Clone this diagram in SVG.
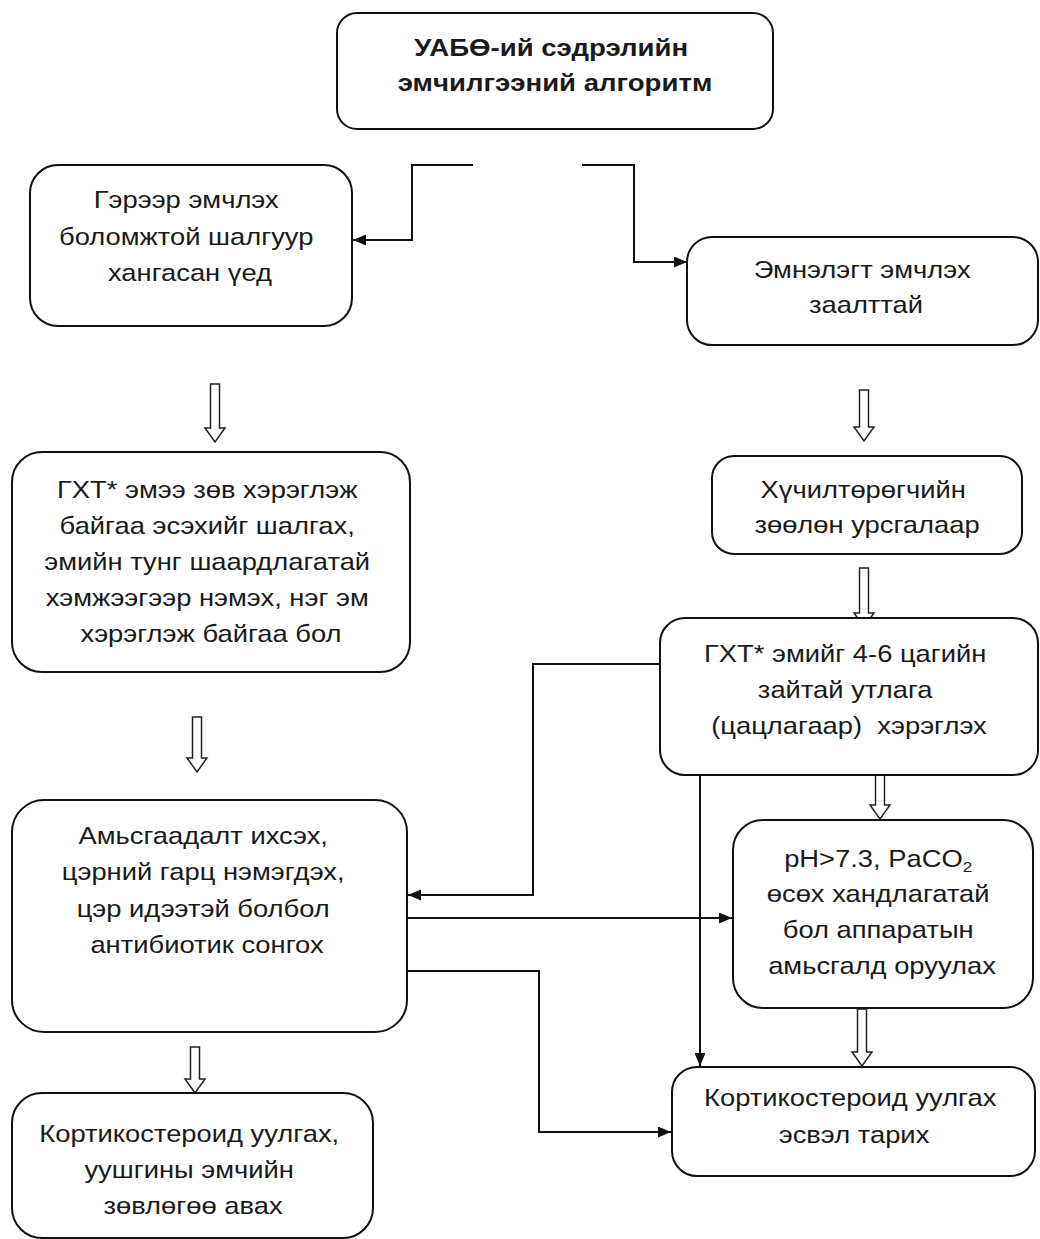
<svg xmlns="http://www.w3.org/2000/svg" width="1040" height="1239" viewBox="0 0 1040 1239">
  <defs>
    <style>
      .box { fill: #ffffff; stroke: #111111; stroke-width: 2; }
      .wire { fill: none; stroke: #111111; stroke-width: 2; }
      .hollow { fill: #ffffff; stroke: #222222; stroke-width: 1.5; stroke-linejoin: miter; }
      .t { font-family: "Liberation Sans", Arial, sans-serif; font-size: 24px; fill: #1a1a1a; text-anchor: middle; }
      .tb { font-weight: bold; }
    </style>
    <marker id="head" markerUnits="userSpaceOnUse" markerWidth="14" markerHeight="12" refX="13" refY="5.5" orient="auto">
      <path d="M0,0 L13,5.5 L0,11 Z" fill="#111111"/>
    </marker>
  </defs>

  <rect width="1040" height="1239" fill="#ffffff"/>

  <!-- connectors -->
  <g id="connectors">
    <path class="wire" d="M473,165 H412 V240 H353" marker-end="url(#head)"/>
    <path class="wire" d="M582,165 H634 V262 H687" marker-end="url(#head)"/>
    <path class="wire" d="M660,664 H533 V895 H408" marker-end="url(#head)"/>
    <path class="wire" d="M408,918 H732" marker-end="url(#head)"/>
    <path class="wire" d="M700,775 V1066" marker-end="url(#head)"/>
    <path class="wire" d="M408,971 H539 V1132 H671" marker-end="url(#head)"/>
    <!-- hollow block arrows: shaft half-width 4.5, head half-width 10, head length 14 -->
    <path class="hollow" d="M210.5,384 H219.5 V428 H225 L215,442 L205,428 H210.5 Z"/>
    <path class="hollow" d="M192.5,717 H201.5 V758 H207 L197,772 L187,758 H192.5 Z"/>
    <path class="hollow" d="M190.5,1047 H199.5 V1079 H205 L195,1093 L185,1079 H190.5 Z"/>
    <path class="hollow" d="M859.5,390 H868.5 V427 H874 L864,441 L854,427 H859.5 Z"/>
    <path class="hollow" d="M859.5,568 H868.5 V613 H874 L864,627 L854,613 H859.5 Z"/>
    <path class="hollow" d="M875.5,775 H884.5 V805 H890 L880,819 L870,805 H875.5 Z"/>
    <path class="hollow" d="M857.5,1009 H866.5 V1052 H872 L862,1066 L852,1052 H857.5 Z"/>
  </g>

  <!-- title -->
  <g id="title">
    <rect class="box" x="337" y="13" width="436" height="116" rx="20"/>
    <text class="t tb" transform="matrix(1.15,0,0,1,555,0)">
      <tspan x="0" y="56">УАБӨ-ий сэдрэлийн</tspan>
      <tspan x="0" y="91">эмчилгээний алгоритм</tspan>
    </text>
  </g>

  <g id="home">
    <rect class="box" x="30" y="165" width="322" height="161" rx="28"/>
    <text class="t" transform="matrix(1.14,0,0,1,190,0)">
      <tspan x="0" y="208">Гэрээр эмчлэх</tspan>
      <tspan x="0" y="245">боломжтой шалгуур</tspan>
      <tspan x="0" y="281">хангасан үед</tspan>
    </text>
  </g>

  <g id="hospital">
    <rect class="box" x="687" y="237" width="351" height="108" rx="25"/>
    <text class="t" transform="matrix(1.14,0,0,1,866,0)">
      <tspan x="0" y="278">Эмнэлэгт эмчлэх</tspan>
      <tspan x="0" y="313">заалттай</tspan>
    </text>
  </g>

  <g id="inhaler-check">
    <rect class="box" x="12" y="452" width="398" height="220" rx="30"/>
    <text class="t" transform="matrix(1.14,0,0,1,211,0)">
      <tspan x="0" y="498">ГХТ* эмээ зөв хэрэглэж</tspan>
      <tspan x="0" y="534">байгаа эсэхийг шалгах,</tspan>
      <tspan x="0" y="570">эмийн тунг шаардлагатай</tspan>
      <tspan x="0" y="606">хэмжээгээр нэмэх, нэг эм</tspan>
      <tspan x="0" y="642">хэрэглэж байгаа бол</tspan>
    </text>
  </g>

  <g id="oxygen">
    <rect class="box" x="712" y="456" width="310" height="98" rx="22"/>
    <text class="t" transform="matrix(1.14,0,0,1,867,0)">
      <tspan x="0" y="498">Хүчилтөрөгчийн</tspan>
      <tspan x="0" y="533">зөөлөн урсгалаар</tspan>
    </text>
  </g>

  <g id="nebulizer">
    <rect class="box" x="660" y="618" width="378" height="157" rx="25"/>
    <text class="t" transform="matrix(1.14,0,0,1,849,0)">
      <tspan x="0" y="662">ГХТ* эмийг 4-6 цагийн</tspan>
      <tspan x="0" y="698">зайтай утлага</tspan>
      <tspan x="0" y="734">(цацлагаар)&#160; хэрэглэх</tspan>
    </text>
  </g>

  <g id="antibiotic">
    <rect class="box" x="12" y="800" width="395" height="232" rx="32"/>
    <text class="t" transform="matrix(1.14,0,0,1,207,0)">
      <tspan x="0" y="844">Амьсгаадалт ихсэх,</tspan>
      <tspan x="0" y="880">цэрний гарц нэмэгдэх,</tspan>
      <tspan x="0" y="917">цэр идээтэй болбол</tspan>
      <tspan x="0" y="953">антибиотик сонгох</tspan>
    </text>
  </g>

  <g id="ventilation">
    <rect class="box" x="733" y="820" width="300" height="188" rx="30"/>
    <text class="t" transform="matrix(1.14,0,0,1,882,0)">
      <tspan x="0" y="867">pH&gt;7.3, PaCO<tspan font-size="15" dy="5">2</tspan></tspan>
      <tspan x="0" y="902">өсөх хандлагатай</tspan>
      <tspan x="0" y="938">бол аппаратын</tspan>
      <tspan x="0" y="974">амьсгалд оруулах</tspan>
    </text>
  </g>

  <g id="steroid-pulmonologist">
    <rect class="box" x="12" y="1093" width="361" height="145" rx="30"/>
    <text class="t" transform="matrix(1.14,0,0,1,193,0)">
      <tspan x="0" y="1142">Кортикостероид уулгах,</tspan>
      <tspan x="0" y="1178">уушгины эмчийн</tspan>
      <tspan x="0" y="1214">зөвлөгөө авах</tspan>
    </text>
  </g>

  <g id="steroid">
    <rect class="box" x="672" y="1067" width="363" height="109" rx="25"/>
    <text class="t" transform="matrix(1.14,0,0,1,854,0)">
      <tspan x="0" y="1106">Кортикостероид уулгах</tspan>
      <tspan x="0" y="1143">эсвэл тарих</tspan>
    </text>
  </g>
</svg>
